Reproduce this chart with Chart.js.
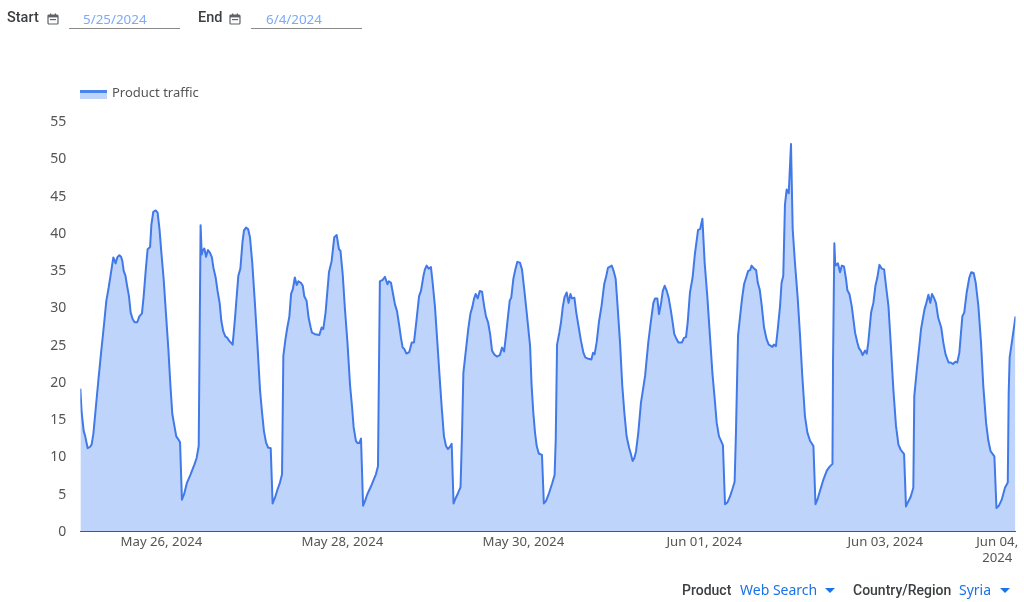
<!DOCTYPE html>
<html><head><meta charset="utf-8">
<style>
html,body{margin:0;padding:0;background:#fff;width:1024px;height:602px;overflow:hidden;font-family:"Noto Sans",Roboto,sans-serif}
#wrap{position:absolute;left:0;top:0;width:1024px;height:602px}
.t{position:absolute;white-space:nowrap;line-height:18px}
.lab{font-family:Roboto,sans-serif;font-size:14.5px;font-weight:500;color:#3c4043}
.date{font-size:13.4px;color:#7baaf7}
.rule{position:absolute;height:1px;background:#8a8a8a;top:28px}
.blue{font-size:14px;color:#1a73e8}
.arrow{position:absolute;width:0;height:0;border-left:5px solid transparent;border-right:5px solid transparent;border-top:5px solid #1a73e8;top:588px}
svg.cal{position:absolute;top:13px}
</style></head><body>
<div id="wrap"><canvas id="c" width="1024" height="602"></canvas></div>
<div class="t lab" style="left:7px;top:9px">Start</div>
<svg class="cal" style="left:47px" width="12" height="12" viewBox="0 0 12 12"><rect x="1" y="2" width="10" height="9" rx="1" fill="none" stroke="#5f6368" stroke-width="1.2"/><rect x="1" y="2" width="10" height="2.4" fill="#5f6368"/><rect x="3" y="0.5" width="1.3" height="2" fill="#5f6368"/><rect x="7.7" y="0.5" width="1.3" height="2" fill="#5f6368"/><rect x="3" y="6" width="6" height="1.2" fill="#5f6368"/></svg>
<div class="t date" style="left:83px;top:10px">5/25/2024</div><div class="rule" style="left:69px;width:111px"></div>
<div class="t lab" style="left:198px;top:9px">End</div>
<svg class="cal" style="left:229px" width="12" height="12" viewBox="0 0 12 12"><rect x="1" y="2" width="10" height="9" rx="1" fill="none" stroke="#5f6368" stroke-width="1.2"/><rect x="1" y="2" width="10" height="2.4" fill="#5f6368"/><rect x="3" y="0.5" width="1.3" height="2" fill="#5f6368"/><rect x="7.7" y="0.5" width="1.3" height="2" fill="#5f6368"/><rect x="3" y="6" width="6" height="1.2" fill="#5f6368"/></svg>
<div class="t date" style="left:266px;top:10px">6/4/2024</div><div class="rule" style="left:251px;width:111px"></div>
<div style="position:absolute;left:80px;top:90px;width:27px;height:9px;background:#bed4fa"><div style="height:3px;background:#4a82ee"></div></div>
<div class="t" style="left:112px;top:83px;font-size:13px;color:#555">Product traffic</div>
<div class="t lab" style="left:682px;top:581px;font-size:14px">Product</div>
<div class="t blue" style="left:740px;top:581px">Web Search</div><div class="arrow" style="left:825px"></div>
<div class="t lab" style="left:853px;top:581px;font-size:14px">Country/Region</div>
<div class="t blue" style="left:959px;top:581px">Syria</div><div class="arrow" style="left:1000px"></div>
<script src="https://cdn.jsdelivr.net/npm/chart.js@4/dist/chart.umd.min.js"></script>
<script>
const seriesName = "Product traffic";
const tickHours = [21.5, 69.5, 117.5, 165.5, 213.5, 243.2];
const tickLabels = ["May 26, 2024","May 28, 2024","May 30, 2024","Jun 01, 2024","Jun 03, 2024",["Jun 04,","2024"]];
const hours = [0,.35,.9,1.3,1.95,2.6,3,3.45,4.15,4.8,5.5,6.2,6.9,7.5,8.05,8.75,9,9.35,9.8,10.35,10.8,11.15,11.5,11.95,12.4,12.9,13.35,13.9,14.4,15.1,15.65,16.35,16.8,17.4,17.85,18.5,18.85,19.35,20,20.5,21,21.5,22.1,22.7,23.35,23.9,24.4,24.95,25.45,26,26.45,26.95,27.5,28.3,29.25,30.25,30.85,31.4,31.65,31.9,32.2,32.45,32.9,33.35,33.85,34.4,34.9,35.3,35.9,36.4,36.95,37.4,37.9,38.45,39,39.5,40.4,41,41.9,42.45,43,43.4,43.95,44.5,45,45.6,46.3,47,47.65,48.2,48.7,49.25,49.8,50.5,51,51.65,52.25,52.95,53.5,53.85,54.4,54.9,55.45,55.9,56.35,56.9,57.4,57.85,58.5,59,59.4,60,60.55,61.1,61.45,62.25,63.4,64,64.45,65.05,65.95,66.65,67.35,68,68.6,69,69.6,70.2,70.85,71.55,72.05,72.5,73.1,73.55,74,74.45,75,75.5,76.1,77.1,77.9,78.4,78.95,79.45,80.2,80.8,81.45,81.85,82.4,82.95,83.45,84,84.6,85.05,85.5,85.95,86.5,87.25,87.9,88.5,89.1,89.85,90.35,91,91.4,91.85,92.4,93,93.45,94.05,94.7,95.4,95.9,96.45,97,97.5,98.05,98.5,99,99.65,100.2,100.85,101.25,101.6,102.1,102.9,103.45,104,104.4,104.85,105.4,105.95,106.55,107.1,107.6,108.15,108.7,109.2,109.75,110.45,111.3,111.85,112.4,112.9,113.35,113.9,114.3,114.85,115.4,115.9,116.6,117.15,117.75,118.4,119.3,119.7,120.15,120.6,121.05,121.6,122.45,122.95,123.5,124.2,125.1,125.8,126.1,126.45,127.05,127.5,127.95,128.4,129,129.5,130,130.4,131.05,131.55,132.2,132.8,133.45,133.95,134.75,135.55,136,136.4,136.95,137.55,138.25,138.95,139.5,139.95,140.95,141.45,142,142.5,143.15,143.75,144.3,144.9,145.55,146.05,146.5,146.95,147.4,148,148.7,149.8,150.65,151.3,152,152.45,153.05,153.5,154.05,154.5,155,155.55,156.05,156.6,157.05,157.55,158,158.65,159.6,160.1,160.65,161.1,161.7,162.4,163,163.85,164.4,165,165.6,166.3,167,167.65,168.2,168.8,169.4,169.95,170.45,171,171.6,172.3,172.95,173.55,173.9,174.45,175,175.5,176.05,176.6,177.15,177.65,178.05,178.7,179.25,179.7,180.2,180.75,181.35,182.05,182.6,182.95,183.55,183.95,184.5,185,185.6,186,186.45,186.9,187.35,187.9,188.5,188.95,189.55,190.3,190.9,191.5,192.2,192.85,193.55,194.45,195,195.5,196.2,197.1,198,198.7,199.5,199.65,200,200.25,200.95,201.5,202,202.55,203.1,203.45,204,204.6,205.5,206.1,206.55,207,207.5,208.15,208.6,209,209.75,210.35,210.9,211.4,211.95,212.55,213.2,213.7,214.35,215,215.65,216.35,217,217.6,218.5,219,219.55,220.25,220.95,221.2,221.85,222.45,223,223.45,223.9,224.3,224.95,225.45,225.9,226.4,226.95,227.55,228.35,228.9,229.5,230.3,230.85,231.45,232.1,232.6,233.15,233.95,234.45,235.1,235.8,236.3,236.95,237.5,238.2,238.9,239.5,240.25,240.85,241.45,242.45,243,243.65,244.4,245.25,246,246.25,246.5,247.25,248.05];
const traffic = [19.1,15.9,13.4,12.7,11.1,11.3,11.6,13,16.8,20.3,23.9,27.3,30.9,32.6,34.4,36.7,36.4,35.9,36.7,37,36.8,36.2,34.9,34.3,32.9,31.5,29.3,28.4,28,28,28.8,29.2,31.5,35.3,37.8,38.1,41.1,42.8,43,42.7,40.5,37.3,33.8,29.3,24.4,19.5,15.7,14.1,12.7,12.3,11.9,4.2,4.9,6.5,7.6,8.9,9.8,11.4,26.2,41,37.1,37.6,37.9,36.8,37.7,37.3,36.7,35.3,34,32.2,30.6,28.2,26.8,26.1,25.9,25.5,25,28.4,34.2,35.2,38.7,40.3,40.7,40.5,39.4,36,30.6,24.8,19,15.9,13.4,11.9,11.2,11.1,3.7,4.5,5.5,6.5,7.6,23.5,25.7,27.3,28.8,31.8,32.4,34,33,33.5,33.3,32.9,31.5,30.9,28.6,27.3,26.6,26.4,26.3,27.3,27.1,29.3,34.7,36.2,39.4,39.7,37.8,37.6,34.4,29.7,25.3,19.5,16.8,13.9,12.1,11.8,11.8,12.4,3.4,4,4.9,6,7,7.6,8.7,33.5,33.7,34.1,33.1,33.5,33.3,31.8,30.4,29.5,27.5,25.9,24.6,24.4,23.8,24,25.3,25.3,28,31.5,32.2,34.2,35.1,35.6,35.2,35.4,33.3,30.2,25.3,19.9,16.3,12.7,11.4,11,11.3,11.7,3.7,4.5,5.1,5.9,13.2,21.2,23.5,27.1,29.1,30.1,31.1,31.8,31.2,32.2,32.1,30.2,28.8,28,26.4,24.2,23.7,23.4,23.6,24.6,24.1,26.2,28.4,30.9,31.3,33.8,35.1,36.1,36,35.1,32.4,29.3,24.8,19.5,15.9,13.2,11.4,10.4,10.2,3.7,4,4.9,6.3,7.5,12.3,25,26.6,28,30,31.3,32,30.6,31.8,31.2,31.3,29.3,27.3,25.5,23.9,23.3,23.1,23,23.9,23.7,25.3,28,30.2,33.1,34.2,35.3,35.6,34.9,33.8,30.2,25.3,19.5,15.9,12.7,11.2,10.3,9.4,9.8,10.7,13.2,17.2,20.8,25.3,28,30.6,31.2,31.2,29.1,30.6,32.2,32.9,32.2,31.3,29.7,28.2,26.4,25.9,25.3,25.3,25.9,26,28,32,34,37.1,40.4,40.5,41.9,36,31.5,26.2,21.2,18.1,14.5,12.7,12.1,11.5,3.6,3.8,4.6,5.6,6.6,13.2,26.2,28.8,31.1,33.1,34,34.9,35,35.6,35.2,35,33.3,32.4,30.2,27.3,25.7,25,24.9,24.7,25,24.8,27.1,30.2,33.3,34.2,43.8,45.8,45.3,51.9,40.5,36,31.1,26.2,20.8,15.4,13.2,12.1,11.4,3.6,4.2,5.4,6.9,8.1,8.6,9,22.6,38.6,35.6,35.9,34.7,35.6,35.5,33.8,32.3,31.8,30.2,26.6,25.3,24.5,24.2,23.6,24.2,23.8,25.3,29.3,30.6,32.9,34,35.7,35.2,35.1,32.9,30.2,24.8,19,14.1,11.6,10.9,10.3,3.3,3.9,4.6,5.8,18.1,21.5,24.4,27.1,28.4,29.7,30.4,31.7,30.6,31.8,31.3,30.6,28.6,27.3,25.3,23.7,22.6,22.6,22.4,22.7,22.6,23.9,28.8,29.3,32,34,34.7,34.6,33.3,30.2,25.3,19.5,14.5,12.1,10.7,10,3.1,3.4,4.2,5.8,6.5,18.6,23.3,25.9,28.8];
const xFont = {family:'"Noto Sans",Roboto,sans-serif', size:13.2};
const yFont = {family:'"Noto Sans",Roboto,sans-serif', size:14};
new Chart(document.getElementById('c'), {
  type:'line',
  data:{datasets:[{label:seriesName, data:hours.map((h,i)=>({x:h,y:traffic[i]})),
    borderColor:'#4179e8', backgroundColor:'#bed4fa', borderWidth:2, fill:'origin',
    pointRadius:0, tension:0, borderJoinStyle:'round'}]},
  options:{
    responsive:false, animation:false, devicePixelRatio:1,
    layout:{padding:{left:0,top:121,right:8.5,bottom:0}},
    plugins:{legend:{display:false},tooltip:{enabled:false}},
    scales:{
      x:{type:'linear',min:0,max:hours[hours.length-1],
        grid:{display:false,drawTicks:false},border:{display:true,color:'#555',width:1},
        afterBuildTicks:s=>{s.ticks=tickHours.map(v=>({value:v}));},
        afterFit:s=>{s.height=71;},
        ticks:{autoSkip:false,maxRotation:0,minRotation:0,padding:3,color:'#555',font:xFont,
          callback:v=>tickLabels[tickHours.indexOf(v)]}},
      y:{min:0,max:55,
        grid:{display:false,drawTicks:false},border:{display:false},
        afterFit:s=>{s.width=80.33;},
        ticks:{stepSize:5,padding:14,labelOffset:1,color:'#555',font:yFont}}
    }
  }
});
</script>
</body></html>
